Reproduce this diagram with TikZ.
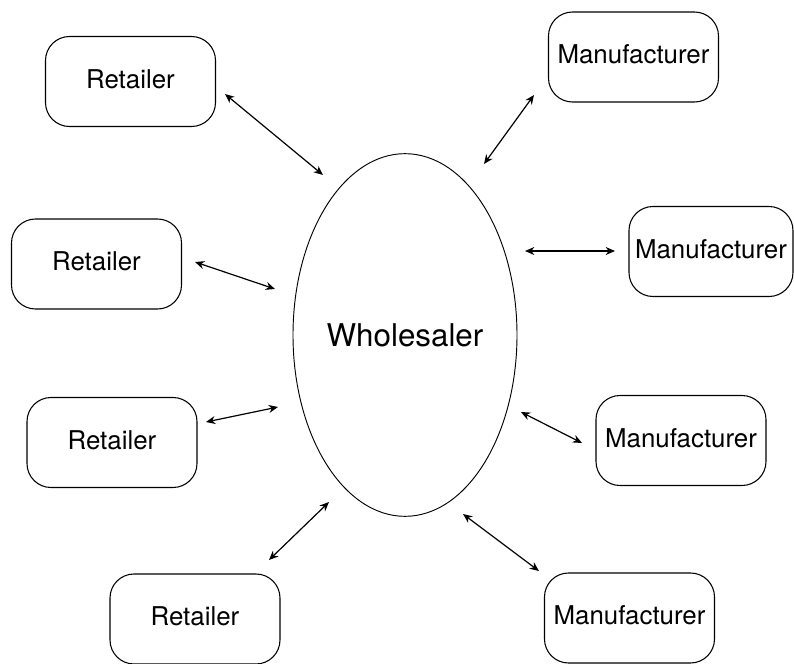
\documentclass[tikz,border=0pt]{standalone}
\usepackage{fontspec}
\setmainfont{TeX Gyre Heros}
\usetikzlibrary{shapes.geometric,arrows.meta,positioning}

\begin{document}
\begin{tikzpicture} [x=0.75pt,y=-0.75pt,
		party/.style={draw,line width=0.8pt,rounded corners=18pt,minimum width=127.5pt,minimum height=67.5pt,inner sep=0pt,text depth=4pt,font=\fontsize{19.4}{22}\selectfont},
		link/.style={{Stealth[length=7pt,width=6pt]}-{Stealth[length=7pt,width=6pt]},line width=0.9pt}]
		\useasboundingbox (0,0) rectangle (794,664);
		% Define parties
		\node[draw,ellipse,line width=0.7pt,minimum width=168pt,minimum height=272pt,inner sep=0pt,font=\fontsize{23.5}{26}\selectfont] (whole) at (405,335) {Wholesaler};
		\node[party] (ret1) at (130.5,81.5) {Retailer};
		\node[party] (ret2) at (96.5,264) {Retailer};
		\node[party] (ret3) at (112,442.5) {Retailer};
		\node[party] (ret4) at (195,619) {Retailer};
		\node[party] (man1) at (633.5,57) {Manufacturer};
		\node[party,minimum width=123pt] (man2) at (711,251.5) {Manufacturer};
		\node[party] (man3) at (681,440.5) {Manufacturer};
		\node[party] (man4) at (629.5,618) {Manufacturer};
		% Arrow ends
		\coordinate (ret1a) at (225,94);  \coordinate (ret1b) at (323,175);
		\coordinate (ret2a) at (195,262); \coordinate (ret2b) at (275,289);
		\coordinate (ret3a) at (206,422); \coordinate (ret3b) at (278,407);
		\coordinate (ret4a) at (269,560); \coordinate (ret4b) at (329,502);
		\coordinate (man1a) at (534,95);  \coordinate (man1b) at (484,164);
		\coordinate (man2a) at (615,251); \coordinate (man2b) at (525,251);
		\coordinate (man3a) at (582,443); \coordinate (man3b) at (521,412);
		\coordinate (man4a) at (539,571); \coordinate (man4b) at (463,514);
		\foreach \p in {ret1,ret2,ret3,ret4,man1,man2,man3,man4}
			\draw[link] (\p a) -- (\p b);
	\end{tikzpicture}
\end{document}
